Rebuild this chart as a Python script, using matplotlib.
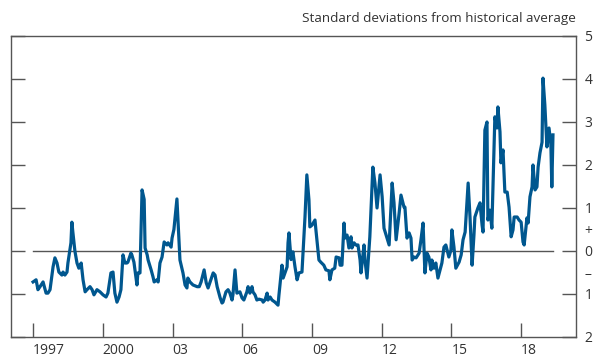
import matplotlib
matplotlib.use("Agg")
import matplotlib.pyplot as plt

plt.rcParams['font.family'] = ['Open Sans', 'DejaVu Sans']

# --- data (decimal year, standard deviations) ---
years = [
    1997.00, 1997.13, 1997.21, 1997.30, 1997.43, 1997.56, 1997.64, 1997.73,
    1997.86, 1997.94, 1998.03, 1998.11, 1998.24, 1998.29, 1998.37, 1998.46,
    1998.50, 1998.63, 1998.67, 1998.71, 1998.80, 1998.89, 1998.97, 1999.07,
    1999.15, 1999.24, 1999.32, 1999.45, 1999.54, 1999.62, 1999.75, 1999.88,
    2000.01, 2000.14, 2000.22, 2000.35, 2000.44, 2000.52, 2000.61, 2000.70,
    2000.78, 2000.87, 2000.95, 2001.04, 2001.08, 2001.21, 2001.25, 2001.34,
    2001.47, 2001.51, 2001.60, 2001.69, 2001.78, 2001.82, 2001.91, 2001.95,
    2002.08, 2002.16, 2002.21, 2002.33, 2002.38, 2002.46, 2002.55, 2002.64,
    2002.76, 2002.81, 2002.94, 2002.98, 2003.06, 2003.19, 2003.32, 2003.45,
    2003.54, 2003.62, 2003.66, 2003.75, 2003.88, 2004.06, 2004.15, 2004.23,
    2004.36, 2004.45, 2004.53, 2004.75, 2004.83, 2004.92, 2005.05, 2005.13,
    2005.17, 2005.30, 2005.39, 2005.47, 2005.56, 2005.60, 2005.69, 2005.77,
    2005.90, 2005.99, 2006.07, 2006.20, 2006.25, 2006.33, 2006.42, 2006.46,
    2006.55, 2006.63, 2006.72, 2006.86, 2006.90, 2006.98, 2007.07, 2007.11,
    2007.20, 2007.28, 2007.41, 2007.54, 2007.58, 2007.71, 2007.76, 2007.84,
    2007.93, 2007.97, 2008.01, 2008.10, 2008.14, 2008.18, 2008.27, 2008.36,
    2008.44, 2008.57, 2008.70, 2008.78, 2008.87, 2008.91, 2009.00, 2009.13,
    2009.17, 2009.30, 2009.38, 2009.51, 2009.60, 2009.73, 2009.77, 2009.86,
    2009.98, 2010.04, 2010.17, 2010.21, 2010.29, 2010.38, 2010.42, 2010.51,
    2010.59, 2010.68, 2010.72, 2010.81, 2010.89, 2010.98, 2011.07, 2011.11,
    2011.24, 2011.28, 2011.37, 2011.49, 2011.62, 2011.71, 2011.80, 2011.93,
    2012.02, 2012.10, 2012.19, 2012.32, 2012.45, 2012.53, 2012.62, 2012.75,
    2012.83, 2012.96, 2013.00, 2013.09, 2013.18, 2013.26, 2013.31, 2013.39,
    2013.48, 2013.61, 2013.69, 2013.78, 2013.86, 2013.95, 2014.03, 2014.12,
    2014.16, 2014.25, 2014.33, 2014.42, 2014.51, 2014.59, 2014.68, 2014.76,
    2014.89, 2014.98, 2015.02, 2015.11, 2015.19, 2015.33, 2015.42, 2015.50,
    2015.59, 2015.72, 2015.80, 2015.89, 2015.97, 2016.01, 2016.14, 2016.23,
    2016.32, 2016.36, 2016.44, 2016.53, 2016.57, 2016.66, 2016.74, 2016.87,
    2016.96, 2017.00, 2017.09, 2017.13, 2017.22, 2017.30, 2017.40, 2017.48,
    2017.57, 2017.65, 2017.70, 2017.83, 2017.91, 2018.00, 2018.08, 2018.13,
    2018.25, 2018.30, 2018.38, 2018.47, 2018.51, 2018.60, 2018.68, 2018.73,
    2018.81, 2018.90, 2018.94, 2019.02, 2019.11, 2019.20, 2019.28, 2019.32,
    2019.37,
]
values = [
    -0.72, -0.67, -0.90, -0.83, -0.72, -0.98, -0.98, -0.90,
    -0.37, -0.16, -0.28, -0.49, -0.56, -0.49, -0.56, -0.49,
    -0.28, 0.19, 0.67, 0.45, 0.00, -0.28, -0.40, -0.28,
    -0.67, -0.95, -0.90, -0.83, -0.90, -1.02, -0.90, -0.95,
    -1.02, -1.07, -0.98, -0.51, -0.49, -0.98, -1.19, -1.07,
    -0.90, -0.09, -0.28, -0.28, -0.26, -0.05, -0.09, -0.26,
    -0.79, -0.51, -0.51, 1.42, 1.20, 0.07, -0.09, -0.21,
    -0.44, -0.60, -0.72, -0.67, -0.72, -0.28, -0.14, 0.21,
    0.14, 0.19, 0.09, 0.30, 0.50, 1.21, -0.21, -0.51,
    -0.79, -0.86, -0.63, -0.72, -0.79, -0.83, -0.83, -0.72,
    -0.44, -0.74, -0.86, -0.51, -0.56, -0.83, -1.09, -1.21,
    -1.19, -0.95, -0.90, -0.98, -1.14, -1.02, -0.44, -0.98,
    -0.95, -1.09, -1.14, -0.95, -0.83, -0.98, -0.83, -0.95,
    -1.02, -1.14, -1.12, -1.14, -1.19, -1.14, -0.98, -1.14,
    -1.07, -1.14, -1.19, -1.26, -1.02, -0.33, -0.63, -0.51,
    -0.37, 0.19, 0.42, -0.20, -0.09, -0.02, -0.37, -0.67,
    -0.51, -0.49, 0.79, 1.77, 1.19, 0.56, 0.60, 0.72,
    0.49, -0.21, -0.26, -0.33, -0.44, -0.46, -0.67, -0.44,
    -0.40, -0.14, -0.16, -0.33, -0.33, 0.65, 0.30, 0.37,
    0.07, 0.33, 0.07, 0.19, 0.14, 0.14, -0.21, -0.51,
    0.14, -0.21, -0.63, 0.33, 1.95, 1.58, 1.00, 1.77,
    1.26, 0.53, 0.37, 0.14, 1.58, 1.12, 0.26, 0.88,
    1.30, 1.02, 1.02, 0.30, 0.42, 0.30, -0.21, -0.14,
    -0.16, -0.05, 0.26, 0.65, -0.51, -0.05, -0.14, -0.44,
    -0.21, -0.40, -0.28, -0.63, -0.44, -0.28, 0.09, 0.14,
    -0.14, 0.02, 0.49, 0.09, -0.40, -0.26, -0.09, 0.26,
    0.44, 1.58, 0.79, -0.33, 0.37, 0.79, 1.00, 1.12,
    0.60, 0.44, 2.81, 3.00, 0.72, 0.95, 0.53, 3.12,
    2.86, 3.35, 2.77, 2.05, 2.35, 1.37, 1.37, 1.02,
    0.33, 0.49, 0.79, 0.79, 0.72, 0.67, 0.21, 0.14,
    0.77, 0.65, 1.26, 1.49, 2.00, 1.42, 1.49, 1.95,
    2.28, 2.53, 4.02, 3.40, 2.42, 2.86, 2.47, 1.49,
    2.70,
]

x_ticks = [1997, 2000, 2003, 2006, 2009, 2012, 2015, 2018]
x_labels = ['1997', '2000', '03', '06', '09', '12', '15', '18']
y_ticks = [-2, -1, 0, 1, 2, 3, 4, 5]
y_labels = ['2', '1', '0', '1', '2', '3', '4', '5']
sign_ticks = [-0.5, 0.5]
sign_labels = ['\u2013', '+']

line_color = '#00578f'
axis_color = '#555555'
text_color = '#333333'

fig = plt.figure(figsize=(5.97, 3.58), dpi=100)
ax = fig.add_axes([0.0184, 0.0587, 0.9464, 0.8408])

# zero line stops short of the right edge
ax.plot([1997.0, 2019.37], [0, 0], color=axis_color, lw=1.0, zorder=1)
ax.plot(years, values, color=line_color, lw=2.3, solid_joinstyle='round',
        zorder=2)

ax.set_xlim(1996.05, 2020.36)
ax.set_ylim(-2, 5)

ax.set_xticks(x_ticks)
ax.set_xticklabels(x_labels, ha='left')
ax.set_yticks(y_ticks)
ax.set_yticklabels(y_labels)
ax.set_yticks(sign_ticks, minor=True)
ax.set_yticklabels(sign_labels, minor=True)

for s in ax.spines.values():
    s.set_color(axis_color)
    s.set_linewidth(1.0)

ax.tick_params(axis='y', which='major', direction='in', length=10,
               width=1.0, color=axis_color, left=True, right=True,
               labelleft=False, labelright=True, pad=6,
               labelsize=10, labelcolor=text_color)
ax.tick_params(axis='y', which='minor', length=0, left=False, right=True,
               labelleft=False, labelright=True, pad=6,
               labelsize=10, labelcolor=text_color)
ax.tick_params(axis='x', direction='in', length=10, width=1.0,
               color=axis_color, pad=4, labelsize=10,
               labelcolor=text_color)

fig.text(0.965, 0.93, 'Standard deviations from historical average',
         ha='right', va='bottom', fontsize=9.7, color=text_color)

fig.savefig('out.png', dpi=100)
